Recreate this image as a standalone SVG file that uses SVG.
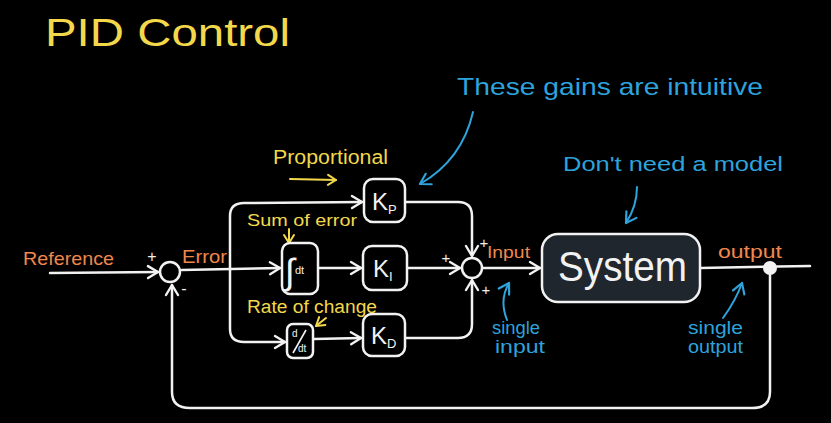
<svg xmlns="http://www.w3.org/2000/svg" width="831" height="423" viewBox="0 0 831 423">
<defs>
<marker id="aw" markerUnits="userSpaceOnUse" markerWidth="16" markerHeight="16" refX="12" refY="7" orient="auto" viewBox="0 0 16 14"><path d="M2,1 L12,7 L2,13" fill="none" stroke="#f2f2f2" stroke-width="2.4" stroke-linecap="round" stroke-linejoin="round"/></marker>
<marker id="ab" markerUnits="userSpaceOnUse" markerWidth="16" markerHeight="16" refX="12" refY="7" orient="auto" viewBox="0 0 16 14"><path d="M2,1 L12,7 L2,13" fill="none" stroke="#2ea3dc" stroke-width="2.2" stroke-linecap="round" stroke-linejoin="round"/></marker>
<marker id="ay" markerUnits="userSpaceOnUse" markerWidth="14" markerHeight="14" refX="10" refY="6" orient="auto" viewBox="0 0 14 12"><path d="M2,1 L10,6 L2,11" fill="none" stroke="#f3d84c" stroke-width="2" stroke-linecap="round" stroke-linejoin="round"/></marker>
</defs>
<style>
text{font-family:"Liberation Sans","DejaVu Sans",sans-serif}
.w{fill:none;stroke:#f2f2f2;stroke-width:2.5;stroke-linecap:round;stroke-linejoin:round}
.b{fill:none;stroke:#2ea3dc;stroke-width:2;stroke-linecap:round}
.y{fill:none;stroke:#f3d84c;stroke-width:2;stroke-linecap:round}
.box{fill:#000;stroke:#f2f2f2;stroke-width:2.5}
.yt{fill:#f3d84c}
.ot{fill:#f0884c}
.bt{fill:#2ea3dc}
.wt{fill:#f2f2f2}
.sum{fill:#000;stroke:#f2f2f2;stroke-width:2.5}
</style>
<rect width="831" height="423" fill="#000"/>
<text x="45" y="46" font-size="38" class="yt" textLength="245" lengthAdjust="spacingAndGlyphs">PID Control</text>

<g id="connectors">
<path class="w" d="M50,273 L158,272" marker-end="url(#aw)"/>
<path class="w" d="M182,270 L280,268" marker-end="url(#aw)"/>
<path class="w" d="M230,270 L230,216 Q230,203 244,203 L362,202" marker-end="url(#aw)"/>
<path class="w" d="M230,270 L230,329 Q230,342 244,342 L285,342" marker-end="url(#aw)"/>
<path class="w" d="M318,268 L361,268" marker-end="url(#aw)"/>
<path class="w" d="M407,268 L460,268" marker-end="url(#aw)"/>
<path class="w" d="M314,339 L361,338" marker-end="url(#aw)"/>
<path class="w" d="M405,202 L458,202 Q472,202 472,216 L472,256" marker-end="url(#aw)"/>
<path class="w" d="M405,338 L458,338 Q472,338 472,324 L472,280" marker-end="url(#aw)"/>
<path class="w" d="M483,268 L540,268" marker-end="url(#aw)"/>
<path class="w" d="M700,268 L810,266"/>
<path class="w" d="M770,268 L770,392 Q770,408 752,408 L190,408 Q172,408 172,392 L172,285" marker-end="url(#aw)"/>
<path class="b" d="M473,112 Q462,160 420,184" marker-end="url(#ab)"/>
<path class="b" d="M637,187 Q637,206 626,223" marker-end="url(#ab)"/>
<path class="b" d="M507,320 Q499,300 509,283" marker-end="url(#ab)"/>
<path class="b" d="M723,318 Q736,300 742,283" marker-end="url(#ab)"/>
<path class="y" d="M290,179 L336,180" marker-end="url(#ay)"/>
<path class="y" d="M289,229 L289,243" marker-end="url(#ay)"/>
<path class="y" d="M326,318 L316,326" marker-end="url(#ay)"/>
</g>

<g id="sum1"><circle class="sum" cx="170" cy="272" r="10"/>
<text x="152" y="262" font-size="16" class="wt" text-anchor="middle">+</text>
<text x="184" y="294" font-size="16" class="wt" text-anchor="middle">-</text></g>

<g id="sum2"><circle class="sum" cx="472" cy="268" r="10"/>
<text x="446" y="263" font-size="15" class="wt" text-anchor="middle">+</text>
<text x="484" y="248" font-size="15" class="wt" text-anchor="middle">+</text>
<text x="486" y="295" font-size="15" class="wt" text-anchor="middle">+</text></g>

<g id="kp"><rect class="box" x="364" y="179" width="41" height="43" rx="9"/>
<text x="372" y="210" font-size="24" class="wt">K<tspan font-size="13" dy="4">P</tspan></text></g>
<g id="integral"><rect class="box" x="282" y="243" width="36" height="51" rx="8"/>
<text x="285" y="284" font-size="36" class="wt">∫<tspan font-size="11" dy="-10">dt</tspan></text></g>
<g id="ki"><rect class="box" x="363" y="246" width="44" height="44" rx="9"/>
<text x="373" y="277" font-size="24" class="wt">K<tspan font-size="13" dy="4">I</tspan></text></g>
<g id="deriv"><rect class="box" x="287" y="324" width="26" height="34" rx="6"/>
<text x="292" y="337" font-size="10" class="wt">d</text>
<path d="M293,353 L306,330" stroke="#f2f2f2" stroke-width="1.6"/>
<text x="298" y="352" font-size="10" class="wt">dt</text></g>
<g id="kd"><rect class="box" x="363" y="314" width="42" height="42" rx="9"/>
<text x="371" y="344" font-size="24" class="wt">K<tspan font-size="13" dy="4">D</tspan></text></g>
<g id="system"><rect x="542" y="234" width="158" height="68" rx="16" fill="#1f262d" stroke="#f2f2f2" stroke-width="2.5"/>
<text x="558" y="281" font-size="42" class="wt" textLength="129" lengthAdjust="spacingAndGlyphs">System</text></g>
<g id="outdot"><circle cx="770" cy="268" r="7" fill="#f2f2f2"/></g>

<g id="labels">
<text x="23" y="265" font-size="19" class="ot" textLength="91" lengthAdjust="spacingAndGlyphs">Reference</text>
<text x="182" y="263" font-size="19" class="ot" textLength="45" lengthAdjust="spacingAndGlyphs">Error</text>
<text x="487" y="258" font-size="17" class="ot" textLength="43" lengthAdjust="spacingAndGlyphs">Input</text>
<text x="718" y="258" font-size="19" class="ot" textLength="64" lengthAdjust="spacingAndGlyphs">output</text>
<text x="273" y="164" font-size="20" class="yt" textLength="115" lengthAdjust="spacingAndGlyphs">Proportional</text>
<text x="247" y="226" font-size="17" class="yt" textLength="110" lengthAdjust="spacingAndGlyphs">Sum of error</text>
<text x="247" y="313" font-size="18" class="yt" textLength="130" lengthAdjust="spacingAndGlyphs">Rate of change</text>
<text x="457" y="95" font-size="24" class="bt" textLength="306" lengthAdjust="spacingAndGlyphs">These gains are intuitive</text>
<text x="563" y="171" font-size="20" class="bt" textLength="220" lengthAdjust="spacingAndGlyphs">Don't need a model</text>
<text x="492" y="334" font-size="18" class="bt" textLength="48" lengthAdjust="spacingAndGlyphs">single</text>
<text x="495" y="353" font-size="18" class="bt" textLength="50" lengthAdjust="spacingAndGlyphs">input</text>
<text x="688" y="334" font-size="18" class="bt" textLength="55" lengthAdjust="spacingAndGlyphs">single</text>
<text x="688" y="353" font-size="18" class="bt" textLength="55" lengthAdjust="spacingAndGlyphs">output</text>
</g>
</svg>
